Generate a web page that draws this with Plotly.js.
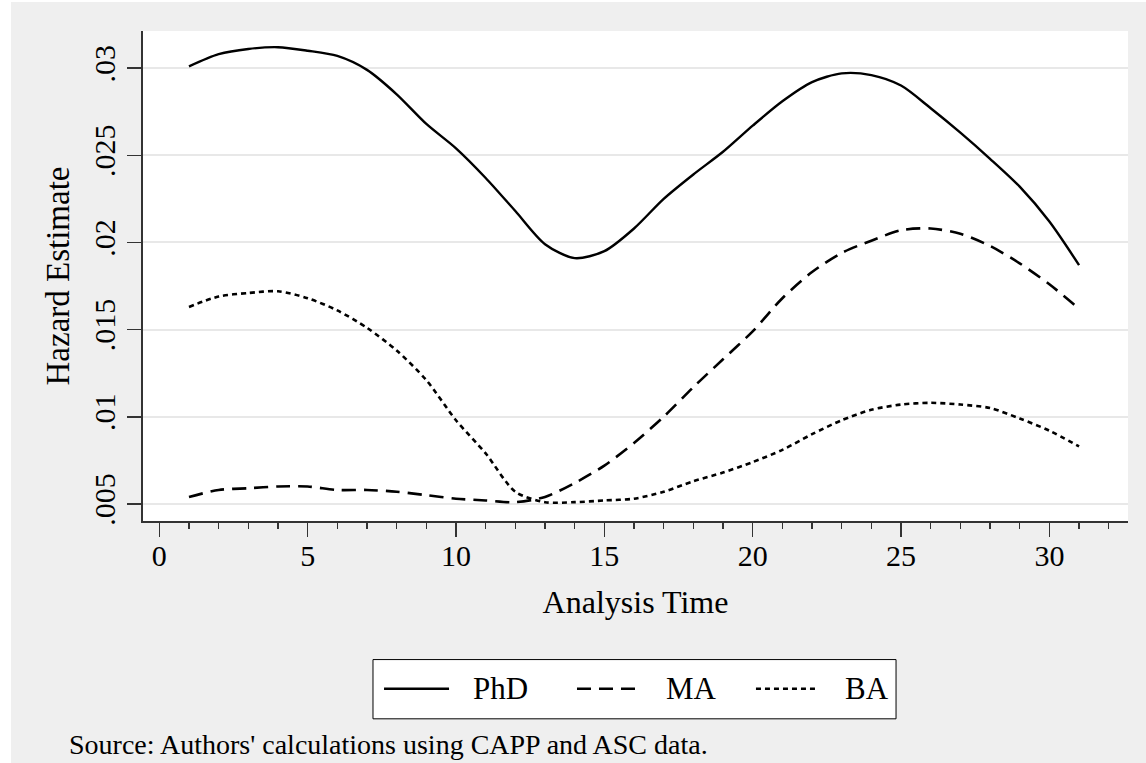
<!DOCTYPE html>
<html>
<head>
<meta charset="utf-8">
<script src="https://cdn.plot.ly/plotly-3.0.1.min.js"></script>
<style>
  html, body { margin: 0; padding: 0; background: #ffffff; overflow: hidden; }
  #chart { position: absolute; left: 11px; top: 2px; width: 1135px; height: 761px; }
</style>
</head>
<body>
<div id="chart"></div>
<script>
// Analysis time (x)
const analysisTime = [1,2,3,4,5,6,7,8,9,10,11,12,13,14,15,16,17,18,19,20,21,22,23,24,25,26,27,28,29,30,31];
// Hazard estimates
const phd = [0.0301,0.0308,0.0311,0.0312,0.0310,0.0307,0.0299,0.0285,0.0268,0.0254,0.0237,0.0218,0.0199,0.0191,0.0195,0.0208,0.0225,0.0239,0.0252,0.0267,0.0281,0.0292,0.0297,0.0296,0.0290,0.0277,0.0263,0.0248,0.0232,0.0212,0.0187];
const ma  = [0.0054,0.0058,0.0059,0.0060,0.0060,0.0058,0.0058,0.0057,0.0055,0.0053,0.0052,0.0051,0.0054,0.0062,0.0072,0.0085,0.0100,0.0117,0.0133,0.0149,0.0168,0.0183,0.0194,0.0201,0.0207,0.0208,0.0205,0.0198,0.0188,0.0176,0.0162];
const ba  = [0.0163,0.0169,0.0171,0.0172,0.0168,0.0161,0.0151,0.0138,0.0121,0.0098,0.0079,0.0057,0.0051,0.0051,0.0052,0.0053,0.0057,0.0063,0.0068,0.0074,0.0081,0.0090,0.0098,0.0104,0.0107,0.0108,0.0107,0.0105,0.0099,0.0092,0.0083];
// Tick labels
const yTickVals = [0.005,0.01,0.015,0.02,0.025,0.03];
const yTickText = ['.005','.01','.015','.02','.025','.03'];
const xTickVals = [0,5,10,15,20,25,30];
const xTickText = ['0','5','10','15','20','25','30'];
const seriesNames = ['PhD','MA','BA'];
const sourceNote = "Source: Authors' calculations using CAPP and ASC data.";

const FONT = 'Liberation Serif, Times New Roman, serif';
const dashes = ['solid', '14px,8px', '5px,4px'];
const widths = [2.4, 2.6, 2.6];
const series = [phd, ma, ba];

const traces = series.map((s, i) => ({
  x: analysisTime, y: s, name: seriesNames[i], mode: 'lines',
  line: {color: '#000', width: widths[i], dash: dashes[i], shape: 'spline', smoothing: 0.8},
  hoverinfo: 'skip', showlegend: false
}));

// Legend (drawn as a boxed key below the plot)
const legY = -0.3422;
const legLines = [[0.2447, 0.3107], [0.4406, 0.5046], [0.6223, 0.6843]];
const legText = [0.333, 0.5289, 0.7107];
const shapes = [
  {type: 'rect', xref: 'paper', yref: 'paper', x0: 0.2335, x1: 0.7645, y0: -0.4037, y1: -0.2828,
   line: {color: '#000', width: 1}, fillcolor: '#ffffff', layer: 'above'}
];
const annotations = [];
seriesNames.forEach((n, i) => {
  shapes.push({type: 'line', xref: 'paper', yref: 'paper', x0: legLines[i][0], x1: legLines[i][1], y0: legY, y1: legY,
    line: {color: '#000', width: widths[i], dash: dashes[i]}, layer: 'above'});
  annotations.push({text: n, xref: 'paper', yref: 'paper', x: legText[i], xanchor: 'left', y: legY, yanchor: 'middle',
    showarrow: false, font: {family: FONT, size: 31, color: '#000'}});
});
annotations.push({text: sourceNote, xref: 'paper', yref: 'paper',
  x: -0.0772, xanchor: 'left', y: -0.4570, yanchor: 'middle', showarrow: false,
  font: {family: FONT, size: 28, color: '#000'}});

const layout = {
  width: 1135, height: 761,
  margin: {l: 132, r: 18, t: 29, b: 242},
  paper_bgcolor: '#efefef',
  plot_bgcolor: '#ffffff',
  font: {family: FONT, size: 28, color: '#000'},
  showlegend: false,
  xaxis: {
    range: [-0.55, 32.65],
    tickvals: xTickVals, ticktext: xTickText,
    ticks: 'outside', ticklen: 14, tickwidth: 1.5, tickcolor: '#333',
    minor: {dtick: 1, tick0: 0, ticks: 'outside', ticklen: 6, tickwidth: 1.5, tickcolor: '#333', showgrid: false},
    showline: true, linecolor: '#333', linewidth: 2,
    showgrid: false, zeroline: false,
    ticklabelstandoff: -7,
    tickfont: {family: FONT, size: 30, color: '#000'},
    title: {text: 'Analysis Time', font: {family: FONT, size: 32, color: '#000'}, standoff: 20}
  },
  yaxis: {
    range: [0.00402, 0.03213],
    tickvals: yTickVals, ticktext: yTickText,
    tickangle: -90,
    ticks: 'outside', ticklen: 14, tickwidth: 1.5, tickcolor: '#333',
    showline: true, linecolor: '#333', linewidth: 2,
    showgrid: true, gridcolor: '#e8e8e8', gridwidth: 2,
    zeroline: false,
    tickfont: {family: FONT, size: 30, color: '#000'},
    title: {text: 'Hazard Estimate', font: {family: FONT, size: 33, color: '#000'}, standoff: 8}
  },
  shapes: shapes,
  annotations: annotations
};

Plotly.newPlot('chart', traces, layout, {displayModeBar: false, staticPlot: true});
</script>
</body>
</html>
